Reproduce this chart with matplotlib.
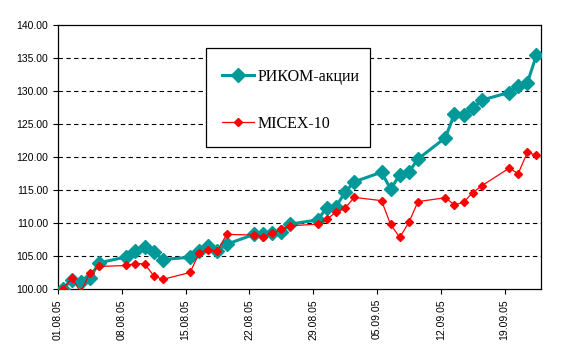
import matplotlib
matplotlib.use("Agg")
import matplotlib.pyplot as plt
from matplotlib.patches import Rectangle
import pandas as pd
import numpy as np

dates = ["01.08.05", "02.08.05", "03.08.05", "04.08.05", "05.08.05",
         "08.08.05", "09.08.05", "10.08.05", "11.08.05", "12.08.05",
         "15.08.05", "16.08.05", "17.08.05", "18.08.05", "19.08.05",
         "22.08.05", "23.08.05", "24.08.05", "25.08.05", "26.08.05",
         "29.08.05", "30.08.05", "31.08.05", "01.09.05", "02.09.05",
         "05.09.05", "06.09.05", "07.09.05", "08.09.05", "09.09.05",
         "12.09.05", "13.09.05", "14.09.05", "15.09.05", "16.09.05",
         "19.09.05", "20.09.05", "21.09.05", "22.09.05"]

rikom = [100.0, 101.4, 101.15, 101.7, 104.0,
         104.9, 105.85, 106.35, 105.7, 104.5,
         104.85, 105.75, 106.5, 105.8, 106.8,
         108.3, 108.3, 108.45, 108.7, 109.85,
         110.5, 112.35, 112.5, 114.65, 116.25,
         117.7, 115.15, 117.3, 117.7, 119.7,
         122.9, 126.5, 126.3, 127.35, 128.6,
         129.75, 130.8, 131.2, 135.4]

micex = [100.0, 101.65, 99.6, 102.5, 103.45,
         103.6, 103.9, 103.85, 102.05, 101.5,
         102.55, 105.5, 105.95, 105.8, 108.3,
         108.2, 107.95, 108.45, 109.05, 109.6,
         109.85, 110.6, 111.65, 112.25, 113.9,
         113.4, 109.8, 107.85, 110.1, 113.25,
         113.85, 112.75, 113.15, 114.6, 115.65,
         118.3, 117.5, 120.7, 120.25]

tick_labels = ["01.08.05", "08.08.05", "15.08.05", "22.08.05",
               "29.08.05", "05.09.05", "12.09.05", "19.09.05"]
y_ticks = [100, 105, 110, 115, 120, 125, 130, 135, 140]

names = ["РИКОМ-акции", "MICEX-10"]

d = pd.to_datetime(dates, format="%d.%m.%y")
start = d[0]
x = (d - start).days.values + 0.5
tk = pd.to_datetime(tick_labels, format="%d.%m.%y")
tx = (tk - start).days.values
xmax = (d[-1] - start).days + 1

W, H = 570, 356
fig = plt.figure(figsize=(W/100, H/100), dpi=100)
ax = fig.add_axes([58/W, 1-289.3/H, (541-58)/W, (289.3-24.7)/H])

ax.plot(x, rikom, color="#009999", lw=2.2, marker="D", ms=7.3,
        mec="#009999", mfc="#009999", label=names[0], zorder=3)
ax.plot(x, micex, color="#ff0000", lw=0.9, marker="D", ms=4.2,
        mec="#ff0000", mfc="#ff0000", label=names[1], zorder=4)

ax.set_xlim(0, xmax)
ax.set_ylim(100, 140)
ax.set_yticks(y_ticks)
ax.set_yticklabels([f"{v:.2f}" for v in y_ticks])
ax.set_xticks(tx)
ax.set_xticklabels(tick_labels, rotation=90)

for yv in y_ticks[1:-1]:
    ax.axhline(yv, color="black", lw=0.8, ls=(0, (4, 3)), zorder=1)

for s in ax.spines.values():
    s.set_color("black")
    s.set_linewidth(0.9)

ax.tick_params(axis="both", direction="out", length=3.5, width=0.8,
               colors="black", labelsize=7.5)
for lab in ax.get_xticklabels() + ax.get_yticklabels():
    lab.set_fontfamily("Liberation Sans")

# legend box
box = Rectangle((206/W, 1-147/H), (370-206)/W, (147-48)/H,
                transform=fig.transFigure, facecolor="white",
                edgecolor="black", lw=0.9, zorder=5)
fig.patches.append(box)

leg = fig.legend(loc="upper left", bbox_to_anchor=(206/W, 1-53/H),
                 prop={"family": "Liberation Serif", "size": 11.5},
                 frameon=False,
                 borderpad=1.0, labelspacing=1.93, handlelength=2.0,
                 handletextpad=0.25, borderaxespad=0)
leg.set_zorder(6)

fig.savefig("out.png", dpi=100)
